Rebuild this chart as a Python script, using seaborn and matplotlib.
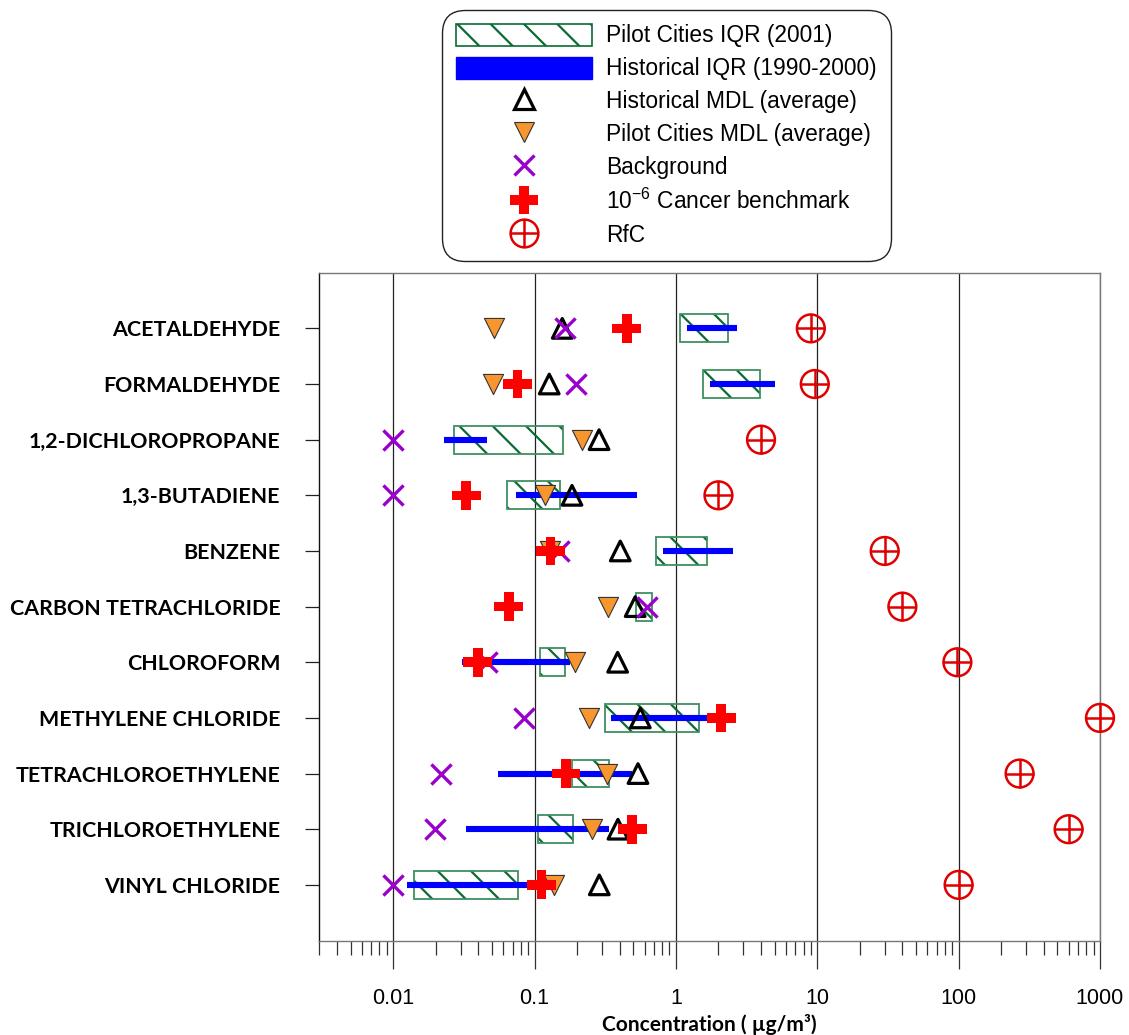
import numpy as np
import pandas as pd
import matplotlib
matplotlib.use("Agg")
import matplotlib.pyplot as plt
import seaborn as sns
from matplotlib.lines import Line2D
from matplotlib.patches import Patch
from matplotlib.legend_handler import HandlerTuple
from matplotlib.ticker import LogLocator, NullFormatter, FuncFormatter

# ---------------- data ----------------
categories = ["ACETALDEHYDE", "FORMALDEHYDE", "1,2-DICHLOROPROPANE", "1,3-BUTADIENE",
              "BENZENE", "CARBON TETRACHLORIDE", "CHLOROFORM", "METHYLENE CHLORIDE",
              "TETRACHLOROETHYLENE", "TRICHLOROETHYLENE", "VINYL CHLORIDE"]
pilot_iqr_low = [1.07, 1.56, 0.027, 0.064, 0.72, 0.524, 0.110, 0.316, 0.184, 0.105, 0.0141]
pilot_iqr_high = [2.34, 3.92, 0.160, 0.152, 1.67, 0.673, 0.165, 1.46, 0.334, 0.186, 0.076]
hist_iqr_low = [1.20, 1.74, 0.0229, 0.074, 0.81, np.nan, 0.0307, 0.347, 0.0552, 0.0328, 0.01256]
hist_iqr_high = [2.70, 5.0, 0.0461, 0.53, 2.53, np.nan, 0.179, 1.70, 0.489, 0.334, 0.140]
hist_mdl = [0.157, 0.127, 0.286, 0.184, 0.404, 0.515, 0.387, 0.56, 0.539, 0.389, 0.287]
pilot_mdl = [0.0515, 0.0507, 0.218, 0.119, 0.128, 0.33, 0.192, 0.241, 0.325, 0.255, 0.138]
background = [0.165, 0.196, 0.0099, 0.0099, 0.148, 0.624, 0.046, 0.0847, 0.0218, 0.0196, 0.0099]
cancer = [0.45, 0.0756, np.nan, 0.0328, 0.13, 0.0657, 0.0397, 2.09, 0.167, 0.491, 0.112]
rfc = [9.0, 9.6, 4.0, 2.0, 30.0, 40.0, 98.0, 1000.0, 270.0, 600.0, 100.0]
x_ticks = [0.01, 0.1, 1, 10, 100, 1000]
x_label = "Concentration ( \u00b5g/m\u00b3)"
legend_labels = ["Pilot Cities IQR (2001)", "Historical IQR (1990-2000)",
                 "Historical MDL (average)", "Pilot Cities MDL (average)",
                 "Background", "10$^{\\mathregular{-6}}$ Cancer benchmark", "RfC"]

# ---------------- style ----------------
sns.set_style("white")
plt.rcParams["font.family"] = ["Liberation Sans", "DejaVu Sans"]
plt.rcParams["mathtext.fontset"] = "custom"
plt.rcParams["mathtext.rm"] = "Liberation Sans"
plt.rcParams["hatch.linewidth"] = 1.6
plt.rcParams["text.color"] = "black"
plt.rcParams["xtick.color"] = "black"
plt.rcParams["ytick.color"] = "black"
plt.rcParams["axes.labelcolor"] = "black"

pos = np.arange(len(categories))
df = pd.DataFrame({
    "pos": pos, "cat": categories,
    "plo": pilot_iqr_low, "phi": pilot_iqr_high,
    "hlo": hist_iqr_low, "hhi": hist_iqr_high,
    "hmdl": hist_mdl, "pmdl": pilot_mdl, "bg": background,
    "cancer": cancer, "rfc": rfc,
})

fig = plt.figure(figsize=(11.29, 10.35), dpi=100)
ax = fig.add_axes([0.2828, 0.0913, 0.6915, 0.6452])
ax.set_xscale("log")

GREEN_H = "#0B6B34"
GREEN_E = "#3F8F60"
BLUE = "#0000FF"
ORANGE = "#F7962F"
PURPLE = "#9900CC"
RED = "#FF0000"
RFC_RED = "#E00000"

# pilot IQR hatched boxes
ax.barh(df["pos"], df["phi"] - df["plo"], left=df["plo"], height=0.5,
        facecolor="none", edgecolor=GREEN_H, linewidth=0, hatch="\\", zorder=2)
ax.barh(df["pos"], df["phi"] - df["plo"], left=df["plo"], height=0.5,
        fill=False, edgecolor=GREEN_E, linewidth=1.3, zorder=2.1)

# historical IQR blue bars
h = df.dropna(subset=["hlo", "hhi"])
ax.hlines(h["pos"], h["hlo"], h["hhi"], colors=BLUE, linewidth=4.4,
          capstyle="butt", zorder=3)

# markers
sns.scatterplot(data=df, x="pmdl", y="pos", marker="v", s=210, color=ORANGE,
                edgecolor="#333333", linewidth=0.8, ax=ax, zorder=4, legend=False, clip_on=False)
sns.scatterplot(data=df, x="hmdl", y="pos", marker="^", s=200, facecolor="none",
                edgecolor="black", linewidth=2.3, ax=ax, zorder=5, legend=False, clip_on=False)
sns.scatterplot(data=df, x="bg", y="pos", marker="x", s=210, color=PURPLE,
                linewidth=2.4, ax=ax, zorder=6, legend=False, clip_on=False)
sns.scatterplot(data=df.dropna(subset=["cancer"]), x="cancer", y="pos", marker="P", s=430,
                color=RED, edgecolor="none", linewidth=0, ax=ax, zorder=7, legend=False,
                clip_on=False)
sns.scatterplot(data=df, x="rfc", y="pos", marker="o", s=400, facecolor="none",
                edgecolor=RFC_RED, linewidth=1.8, ax=ax, zorder=8, legend=False, clip_on=False)
sns.scatterplot(data=df, x="rfc", y="pos", marker="+", s=400, color=RFC_RED,
                linewidth=1.8, ax=ax, zorder=8, legend=False, clip_on=False)

# axes
ax.set_xlim(0.003, 1000)
ax.set_ylim(len(categories), -1)
ax.set_yticks(pos)
ax.set_yticklabels(categories, fontfamily=["Lato", "DejaVu Sans"], fontweight="bold",
                   fontsize=15.4, color="black")
ax.set_ylabel("")
ax.xaxis.set_major_locator(matplotlib.ticker.FixedLocator(x_ticks))
ax.xaxis.set_major_formatter(FuncFormatter(lambda v, p: f"{v:g}"))
ax.xaxis.set_minor_locator(LogLocator(base=10, subs=np.arange(2, 10), numticks=50))
ax.xaxis.set_minor_formatter(NullFormatter())
ax.grid(True, axis="x", which="major", color="#222222", linewidth=0.9)
ax.grid(False, axis="y")
ax.set_axisbelow(True)

ax.tick_params(axis="x", which="major", direction="out", length=20, width=0.9,
               color="#333333", labelcolor="black", labelsize=15.5, pad=14, bottom=True)
ax.tick_params(axis="x", which="minor", direction="out", length=10, width=0.9,
               color="#333333", bottom=True)
ax.tick_params(axis="y", which="major", direction="out", length=10, width=0.9,
               color="#222222", labelcolor="black", pad=18, left=True)
for side in ["top", "right", "bottom"]:
    ax.spines[side].set_color("#777777")
    ax.spines[side].set_linewidth(1.0)
ax.spines["left"].set_color("#111111")
ax.spines["left"].set_linewidth(1.0)

ax.set_xlabel(x_label, fontfamily=["Lato", "DejaVu Sans"], fontweight="bold",
              fontsize=15, labelpad=4, color="black")

# legend
handles = [
    Patch(facecolor="white", edgecolor=GREEN_H, hatch="\\", linewidth=1.2),
    Patch(facecolor=BLUE, edgecolor=BLUE),
    Line2D([], [], linestyle="none", marker="^", markersize=14, markerfacecolor="none",
           markeredgecolor="black", markeredgewidth=2.3),
    Line2D([], [], linestyle="none", marker="v", markersize=14.5, markerfacecolor=ORANGE,
           markeredgecolor="#333333", markeredgewidth=0.8),
    Line2D([], [], linestyle="none", marker="x", markersize=14.5, color=PURPLE,
           markeredgewidth=2.4),
    Line2D([], [], linestyle="none", marker="P", markersize=20.5, color=RED,
           markeredgewidth=0),
    (Line2D([], [], linestyle="none", marker="o", markersize=20, markerfacecolor="none",
            markeredgecolor=RFC_RED, markeredgewidth=1.8),
     Line2D([], [], linestyle="none", marker="+", markersize=20, color=RFC_RED,
            markeredgewidth=1.8)),
]
leg = fig.legend(handles, legend_labels, loc="upper left",
                 bbox_to_anchor=(442 / 1129, 1 - 10 / 1035), borderaxespad=0,
                 fontsize=16.4, frameon=True, fancybox=True, framealpha=1,
                 edgecolor="#222222", handlelength=6.0, handleheight=1.1,
                 labelspacing=0.41, handletextpad=0.62, borderpad=0.6,
                 labelcolor="black",
                 handler_map={tuple: HandlerTuple(ndivide=1)})
leg.get_frame().set_linewidth(1.0)
leg.get_frame().set_boxstyle("round,pad=0.0,rounding_size=1.0")

fig.savefig("out.png", dpi=100)
